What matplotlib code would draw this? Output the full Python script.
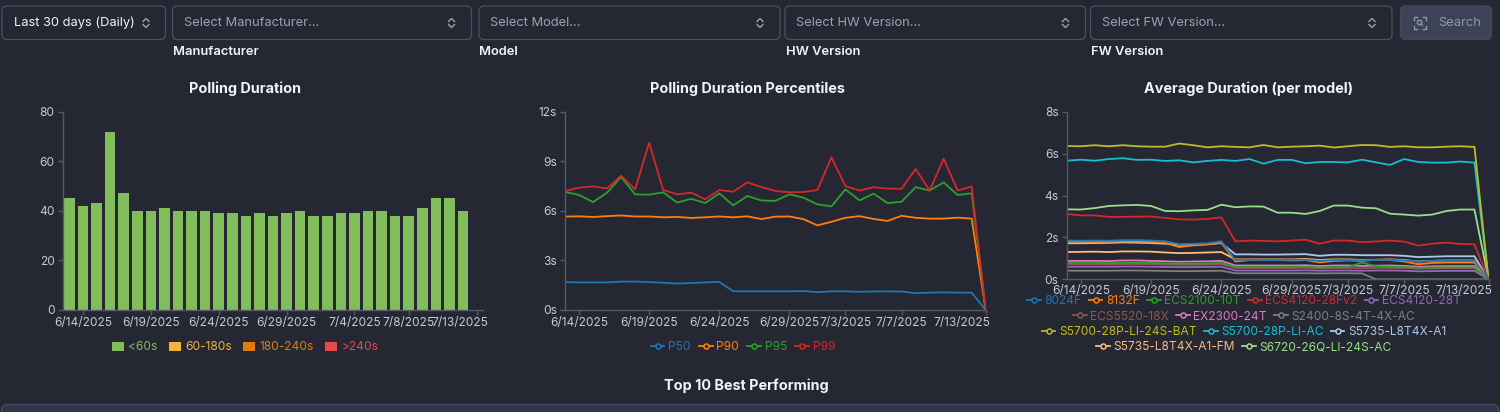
import matplotlib
matplotlib.use("Agg")
import matplotlib.pyplot as plt
from matplotlib.patches import FancyBboxPatch, Rectangle, Circle
from matplotlib.lines import Line2D
from matplotlib.transforms import ScaledTranslation
import pandas as pd

plt.rcParams["font.family"] = ["Inter", "DejaVu Sans"]

# ---------------- data ----------------
dates = pd.date_range("2025-06-13", periods=31, freq="D")
date_labels = [f"{d.month}/{d.day}/{d.year}" for d in dates]
bar_ticks = ["6/14/2025", "6/19/2025", "6/24/2025", "6/29/2025", "7/4/2025", "7/8/2025", "7/13/2025"]
line_ticks = ["6/14/2025", "6/19/2025", "6/24/2025", "6/29/2025", "7/3/2025", "7/7/2025", "7/13/2025"]

bucket_names = ["<60s", "60-180s", "180-240s", ">240s"]
bucket_colors = ["#82bd5c", "#eeb43c", "#e07c0c", "#e5484d"]
under_60 = [45, 42, 43, 72, 47, 40, 40, 41, 40, 40, 40, 39, 39, 38, 39, 38, 39, 40, 38, 38,
            39, 39, 40, 40, 38, 38, 41, 45, 45, 40, 0]
s60_180 = [0, 0, 0, 0, 0, 0, 0, 0, 0, 0, 0, 0, 0, 0, 0, 0, 0, 0, 0, 0, 0, 0, 0, 0, 0, 0, 0, 0, 0, 0, 0]
s180_240 = [0, 0, 0, 0, 0, 0, 0, 0, 0, 0, 0, 0, 0, 0, 0, 0, 0, 0, 0, 0, 0, 0, 0, 0, 0, 0, 0, 0, 0, 0, 0]
over_240 = [0, 0, 0, 0, 0, 0, 0, 0, 0, 0, 0, 0, 0, 0, 0, 0, 0, 0, 0, 0, 0, 0, 0, 0, 0, 0, 0, 0, 0, 0, 0]

pct_names = ["P50", "P90", "P95", "P99"]
pct_colors = ["#1f77b4", "#ff7f0e", "#2ca02c", "#d62728"]
p50 = [1.69, 1.67, 1.67, 1.67, 1.72, 1.72, 1.69, 1.65, 1.60, 1.63, 1.67, 1.70, 1.13, 1.13, 1.13, 1.13,
       1.13, 1.15, 1.08, 1.13, 1.13, 1.10, 1.12, 1.13, 1.12, 1.02, 1.05, 1.07, 1.05, 1.05, 0]
p90 = [5.65, 5.67, 5.63, 5.68, 5.72, 5.66, 5.66, 5.61, 5.63, 5.57, 5.61, 5.66, 5.61, 5.67, 5.50, 5.65,
       5.66, 5.50, 5.12, 5.34, 5.58, 5.68, 5.51, 5.39, 5.70, 5.58, 5.53, 5.53, 5.59, 5.53, 0]
p95 = [7.15, 6.96, 6.53, 7.10, 8.05, 7.00, 6.98, 7.12, 6.50, 6.73, 6.47, 7.06, 6.33, 6.90, 6.63, 6.60,
       7.00, 6.80, 6.39, 6.27, 7.30, 6.63, 7.04, 6.47, 6.55, 7.43, 7.23, 7.72, 6.96, 7.06, 0]
p99 = [7.20, 7.40, 7.48, 7.36, 8.12, 7.30, 10.12, 7.26, 7.00, 7.10, 6.70, 7.26, 7.16, 7.72, 7.44, 7.20,
       7.12, 7.14, 7.26, 9.23, 7.50, 7.23, 7.43, 7.35, 7.33, 8.53, 7.23, 9.15, 7.23, 7.48, 0]

model_names = ["8024F", "8132F", "ECS2100-10T", "ECS4120-28Fv2", "ECS4120-28T",
               "ECS5520-18X", "EX2300-24T", "S2400-8S-4T-4X-AC",
               "S5700-28P-LI-24S-BAT", "S5700-28P-LI-AC", "S5735-L8T4X-A1",
               "S5735-L8T4X-A1-FM", "S6720-26Q-LI-24S-AC"]
model_colors = ["#1f77b4", "#ff7f0e", "#2ca02c", "#d62728", "#9467bd", "#8c564b", "#e377c2",
                "#7f7f7f", "#bcbd22", "#17becf", "#aec7e8", "#ffbb78", "#98df8a"]
m_8024f = [1.85, 1.84, 1.85, 1.84, 1.87, 1.87, 1.85, 1.82, 1.68, 1.70, 1.72, 1.82, 0.92, 0.93, 0.92, 0.92,
           0.93, 0.93, 0.88, 0.92, 0.92, 0.90, 0.92, 0.93, 0.90, 0.85, 0.88, 0.90, 0.90, 0.90, 0]
m_8132f = [1.79, 1.80, 1.78, 1.79, 1.80, 1.80, 1.79, 1.74, 1.54, 1.62, 1.66, 1.75, 0.85, 0.92, 0.92, 0.92,
           0.90, 0.92, 0.80, 0.88, 0.90, 0.88, 0.93, 0.92, 0.85, 0.72, 0.78, 0.80, 0.80, 0.80, 0]
m_ecs2100 = [0.78, 0.78, 0.78, 0.77, 0.79, 0.79, 0.78, 0.76, 0.75, 0.75, 0.76, 0.78, 0.58, 0.58, 0.58, 0.58,
             0.58, 0.59, 0.56, 0.58, 0.58, 0.80, 0.62, 0.60, 0.58, 0.55, 0.56, 0.57, 0.57, 0.57, 0]
m_ecs4120f = [3.12, 3.05, 3.05, 2.98, 2.98, 2.99, 3.00, 2.93, 2.86, 2.85, 2.88, 2.96, 1.81, 1.85, 1.83, 1.81,
              1.85, 1.89, 1.70, 1.85, 1.85, 1.77, 1.81, 1.85, 1.80, 1.61, 1.70, 1.75, 1.69, 1.67, 0]
m_ecs4120t = [0.60, 0.60, 0.60, 0.60, 0.61, 0.61, 0.60, 0.59, 0.58, 0.58, 0.59, 0.60, 0.42, 0.42, 0.42, 0.42,
              0.42, 0.43, 0.41, 0.42, 0.42, 0.41, 0.42, 0.42, 0.41, 0.38, 0.39, 0.40, 0.40, 0.40, 0]
m_ecs5520 = [0.72, 0.72, 0.72, 0.71, 0.73, 0.73, 0.72, 0.70, 0.69, 0.69, 0.70, 0.72, 0.54, 0.54, 0.54, 0.54,
             0.54, 0.55, 0.52, 0.54, 0.54, 0.53, 0.54, 0.54, 0.53, 0.50, 0.51, 0.52, 0.52, 0.52, 0]
m_ex2300 = [0.88, 0.88, 0.88, 0.87, 0.90, 0.90, 0.88, 0.86, 0.84, 0.85, 0.86, 0.88, 0.66, 0.66, 0.66, 0.66,
            0.66, 0.67, 0.63, 0.66, 0.66, 0.64, 0.65, 0.66, 0.64, 0.60, 0.62, 0.63, 0.63, 0.63, 0]
m_s2400 = [0.41, 0.41, 0.41, 0.41, 0.42, 0.42, 0.41, 0.40, 0.39, 0.39, 0.40, 0.41, 0.29, 0.29, 0.29, 0.29,
           0.29, 0.29, 0.28, 0.29, 0.29, 0.28, 0, 0, 0, 0, 0, 0, 0, 0, 0]
m_s5700bat = [6.36, 6.35, 6.40, 6.35, 6.40, 6.35, 6.33, 6.33, 6.48, 6.40, 6.30, 6.35, 6.32, 6.30, 6.41, 6.30,
              6.33, 6.35, 6.38, 6.29, 6.35, 6.41, 6.40, 6.32, 6.35, 6.30, 6.30, 6.33, 6.35, 6.32, 0]
m_s5700ac = [5.66, 5.71, 5.66, 5.74, 5.78, 5.70, 5.71, 5.65, 5.68, 5.58, 5.65, 5.70, 5.65, 5.74, 5.52, 5.70,
             5.70, 5.54, 5.60, 5.60, 5.58, 5.71, 5.58, 5.46, 5.74, 5.60, 5.57, 5.57, 5.62, 5.57, 0]
m_s5735 = [1.72, 1.72, 1.73, 1.74, 1.76, 1.75, 1.73, 1.70, 1.65, 1.66, 1.68, 1.73, 1.19, 1.19, 1.18, 1.18,
           1.19, 1.20, 1.12, 1.17, 1.17, 1.15, 1.15, 1.15, 1.12, 1.06, 1.08, 1.10, 1.10, 1.10, 0]
m_s5735fm = [1.30, 1.31, 1.32, 1.30, 1.33, 1.33, 1.32, 1.28, 1.25, 1.26, 1.28, 1.30, 0.95, 0.95, 0.95, 0.95,
             0.95, 0.97, 0.92, 0.95, 0.95, 0.92, 0.93, 0.95, 0.92, 0.85, 0.88, 0.90, 0.90, 0.90, 0]
m_s6720 = [3.34, 3.33, 3.40, 3.50, 3.53, 3.55, 3.50, 3.26, 3.25, 3.29, 3.31, 3.56, 3.44, 3.48, 3.47, 3.18,
           3.18, 3.12, 3.26, 3.52, 3.52, 3.42, 3.39, 3.13, 3.09, 3.04, 3.09, 3.26, 3.33, 3.33, 0]

filter_placeholders = ["Select Manufacturer...", "Select Model...", "Select HW Version...", "Select FW Version..."]
filter_labels = ["Manufacturer", "Model", "HW Version", "FW Version"]

# ---------------- style ----------------
W, H = 1500, 412
BG = "#252733"
AX = "#565a68"
TICK = "#c6c9d2"
WHITE = "#f2f3f6"
PH = "#9ca1b2"
BORDER = "#4c5062"

fig = plt.figure(figsize=(W / 100, H / 100), dpi=100)
fig.patch.set_facecolor(BG)

ui = fig.add_axes([0, 0, 1, 1])
ui.set_xlim(0, W)
ui.set_ylim(H, 0)
ui.axis("off")
ui.set_facecolor(BG)


def rbox(x0, y0, x1, y1, ec, fc, r=5, lw=0.9):
    ui.add_patch(FancyBboxPatch((x0, y0), x1 - x0, y1 - y0,
                                boxstyle=f"round,pad=0,rounding_size={r}",
                                ec=ec, fc=fc, lw=lw))


def chevrons(cx, cy):
    ui.plot([cx - 3, cx, cx + 3], [cy - 1.5, cy - 4.5, cy - 1.5], color=PH, lw=1.0)
    ui.plot([cx - 3, cx, cx + 3], [cy + 1.5, cy + 4.5, cy + 1.5], color=PH, lw=1.0)


# top controls
rbox(2, 6, 165.5, 39.5, BORDER, BG)
ui.text(14, 23, "Last 30 days (Daily)", color=WHITE, fontsize=9.3, va="center", ha="left")
chevrons(146, 23)

box_x = [(172.5, 471.5), (479, 780), (785, 1085.5), (1090.5, 1392)]
for (x0, x1), ph, lab in zip(box_x, filter_placeholders, filter_labels):
    rbox(x0, 6, x1, 39.5, BORDER, BG)
    ui.text(x0 + 11.5, 23, ph, color=PH, fontsize=9.3, va="center", ha="left")
    chevrons(x1 - 20, 23)
    ui.text(x0 + 0.5, 51.5, lab, color=WHITE, fontsize=9.3, va="center", ha="left",
            fontweight="semibold")

# search button
rbox(1400.5, 6, 1491.5, 39.5, "#434860", "#3d4256")
ic = "#8f96ab"
for sx, sy in [(-1, -1), (1, -1), (-1, 1), (1, 1)]:
    cx, cy = 1420 + sx * 6, 23 + sy * 6
    ui.plot([cx, cx, cx - sx * 3], [cy - sy * 3, cy, cy], color=ic, lw=1.0)
ui.add_patch(Circle((1419.5, 22.5), 2.2, fill=False, ec=ic, lw=1.0))
ui.plot([1421, 1422.5], [24, 25.5], color=ic, lw=1.0)
ui.text(1438.5, 23, "Search", color=ic, fontsize=9.3, va="center", ha="left")

# chart titles
for cx, t in [(245, "Polling Duration"), (747, "Polling Duration Percentiles"),
              (1249, "Average Duration (per model)")]:
    ui.text(cx, 88.5, t, color=WHITE, fontsize=10.4, fontweight="bold", ha="center", va="center")

# bottom section
ui.text(746, 385.5, "Top 10 Best Performing", color=WHITE, fontsize=10.4, fontweight="bold",
        ha="center", va="center")
rbox(1.5, 404.5, 1498.5, 440, "#4a4e62", "#32354a", r=6)


def px_axes(l, t, r, b, xpad=1.2):
    ax = fig.add_axes([l / W, 1 - b / H, (r - l) / W, (b - t) / H])
    ax.set_facecolor("none")
    for s in ["top", "right"]:
        ax.spines[s].set_visible(False)
    for s in ["left", "bottom"]:
        ax.spines[s].set_color(AX)
        ax.spines[s].set_linewidth(1.0)
    ax.tick_params(colors=AX, labelcolor=TICK, length=3.6, width=1.0, labelsize=8.6)
    ax.tick_params(axis="y", pad=2.2)
    ax.tick_params(axis="x", pad=xpad)
    return ax


def shift_last_label(ax, dx_px):
    lab = ax.get_xticklabels()[-1]
    lab.set_horizontalalignment("right")
    lab.set_transform(lab.get_transform() + ScaledTranslation(dx_px / 100, 0, fig.dpi_scale_trans))


x = list(range(len(dates)))

# ---- bar chart ----
ax1 = px_axes(62.7, 111.7, 483.3, 310)
bottom = [0] * len(x)
for vals, c, n in zip([under_60, s60_180, s180_240, over_240], bucket_colors, bucket_names):
    ax1.bar(x, vals, width=0.78, bottom=bottom, color=c, label=n, linewidth=0)
    bottom = [b + v for b, v in zip(bottom, vals)]
ax1.set_xlim(-0.5, len(x) - 0.5)
ax1.set_ylim(0, 80)
ax1.set_yticks([0, 20, 40, 60, 80])
ax1.set_xticks([date_labels.index(t) for t in bar_ticks])
ax1.set_xticklabels(bar_ticks)
shift_last_label(ax1, 11.5)

bar_handles = [Rectangle((0, 0), 1, 1, fc=c, ec="none") for c in bucket_colors]
leg = fig.legend(bar_handles, bucket_names, loc="center", bbox_to_anchor=(245 / W, 1 - 347.5 / H),
                 ncol=4, frameon=False, handlelength=1.05, handleheight=0.8, handletextpad=0.35,
                 columnspacing=0.9, fontsize=8.6)
for t, c in zip(leg.get_texts(), bucket_colors):
    t.set_color(c)

# ---- percentile chart ----
ax2 = px_axes(565, 111.7, 985.7, 310)
for vals, c, n in zip([p50, p90, p95, p99], pct_colors, pct_names):
    ax2.plot(x, vals, color=c, lw=1.3, label=n)
ax2.set_xlim(0, len(x) - 1)
ax2.set_ylim(0, 12)
ax2.set_yticks([0, 3, 6, 9, 12])
ax2.set_yticklabels([f"{v}s" for v in [0, 3, 6, 9, 12]])
ax2.set_xticks([date_labels.index(t) for t in line_ticks])
ax2.set_xticklabels(line_ticks)
shift_last_label(ax2, 4.5)

pct_handles = [Line2D([0], [0], color=c, lw=1.3, marker="o", ms=3.6, mfc=BG, mew=1.1) for c in pct_colors]
leg = fig.legend(pct_handles, pct_names, loc="center", bbox_to_anchor=(743 / W, 1 - 347.5 / H),
                 ncol=4, frameon=False, handlelength=1.15, handletextpad=0.3, columnspacing=0.7,
                 fontsize=8.6)
for t, c in zip(leg.get_texts(), pct_colors):
    t.set_color(c)

# ---- average per model ----
ax3 = px_axes(1066.7, 111.7, 1488.5, 279.3, xpad=0.2)
series = [m_8024f, m_8132f, m_ecs2100, m_ecs4120f, m_ecs4120t, m_ecs5520, m_ex2300, m_s2400,
          m_s5700bat, m_s5700ac, m_s5735, m_s5735fm, m_s6720]
for i in range(len(series) - 1, -1, -1):
    ax3.plot(x, series[i], color=model_colors[i], lw=1.3, label=model_names[i])
ax3.set_xlim(0, len(x) - 1)
ax3.set_ylim(0, 8)
ax3.set_yticks([0, 2, 4, 6, 8])
ax3.set_yticklabels([f"{v}s" for v in [0, 2, 4, 6, 8]])
ax3.set_xticks([date_labels.index(t) for t in line_ticks])
ax3.set_xticklabels(line_ticks)
shift_last_label(ax3, 4.0)

rows = [[0, 1, 2, 3, 4], [5, 6, 7], [8, 9, 10], [11, 12]]
row_y = [301, 316.5, 332, 347.5]
for r, yy in zip(rows, row_y):
    hs = [Line2D([0], [0], color=model_colors[i], lw=1.3, marker="o", ms=3.6, mfc=BG, mew=1.1) for i in r]
    ls = [model_names[i] for i in r]
    lg = fig.legend(hs, ls, loc="center", bbox_to_anchor=(1244 / W, 1 - yy / H), ncol=len(r),
                    frameon=False, handlelength=1.15, handletextpad=0.3, columnspacing=0.6,
                    fontsize=8.6, borderpad=0.1)
    for t, i in zip(lg.get_texts(), r):
        t.set_color(model_colors[i])

fig.savefig("out.png", dpi=100, facecolor=BG)
